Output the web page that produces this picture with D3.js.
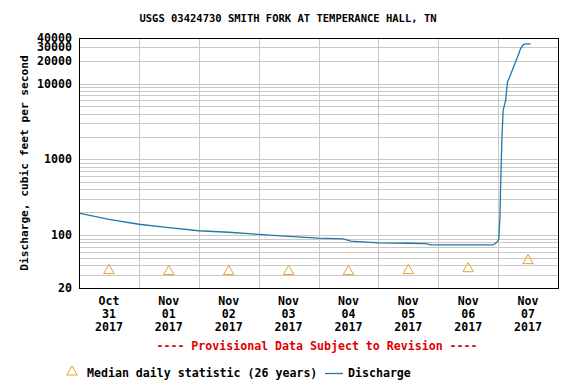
<!DOCTYPE html>
<html>
<head>
<meta charset="utf-8">
<script src="https://cdn.jsdelivr.net/npm/d3@7"></script>
<style>
  body { margin: 0; background: #fff; }
  text { font-family: "DejaVu Sans Mono", "Liberation Mono", monospace; font-weight: bold; }
</style>
</head>
<body>
<svg width="576" height="384"></svg>
<script>
  // discharge readings (cfs)
  const flowTimes = [
    "2017-10-31 00:00", "2017-10-31 12:00", "2017-11-01 00:00", "2017-11-01 12:00",
    "2017-11-02 00:00", "2017-11-02 12:00", "2017-11-03 00:00", "2017-11-03 12:00",
    "2017-11-04 00:00", "2017-11-04 10:00", "2017-11-04 13:00", "2017-11-05 00:00",
    "2017-11-05 12:00", "2017-11-05 19:00", "2017-11-05 21:00", "2017-11-06 12:00",
    "2017-11-06 22:00", "2017-11-06 23:30", "2017-11-07 00:15", "2017-11-07 00:45",
    "2017-11-07 01:00", "2017-11-07 01:30", "2017-11-07 02:00", "2017-11-07 03:00",
    "2017-11-07 03:45", "2017-11-07 04:45", "2017-11-07 06:30", "2017-11-07 08:00",
    "2017-11-07 09:00", "2017-11-07 10:00", "2017-11-07 11:00", "2017-11-07 13:00"
  ];
  const flowValues = [
    195, 161, 139, 125,
    114, 109, 102, 96,
    91, 89, 83, 79,
    78, 77, 74, 74,
    74, 80, 88, 180,
    450, 1800, 4400, 6000,
    10500, 12500, 17600, 23500,
    29000, 32500, 33500, 33500
  ];

  // median daily statistic (26 years)
  const medianDays = ["2017-10-31", "2017-11-01", "2017-11-02", "2017-11-03",
                      "2017-11-04", "2017-11-05", "2017-11-06", "2017-11-07"];
  const medianValues = [34, 33, 33, 33, 33, 34, 36, 46];

  const yTickValues = [20, 100, 1000, 10000, 20000, 30000, 40000];
  const xLabelMonths = ["Oct", "Nov", "Nov", "Nov", "Nov", "Nov", "Nov", "Nov"];
  const xLabelDays = ["31", "01", "02", "03", "04", "05", "06", "07"];
  const xLabelYears = ["2017", "2017", "2017", "2017", "2017", "2017", "2017", "2017"];

  const svg = d3.select("svg");
  const plotL = 79, plotR = 558, plotT = 38, plotB = 288;

  const parseT = d3.utcParse("%Y-%m-%d %H:%M");
  const parseD = d3.utcParse("%Y-%m-%d");

  const x = d3.scaleUtc()
      .domain([parseD("2017-10-31"), parseD("2017-11-08")])
      .range([plotL, plotR]);
  const y = d3.scaleLog()
      .domain([20, 40000])
      .range([plotB, plotT]);

  // horizontal grid, every log step
  const gridY = [];
  [10, 100, 1000, 10000].forEach(p => {
    for (let k = 1; k <= 9; k++) {
      const v = k * p;
      if (v > 20 && v < 40000) gridY.push(v);
    }
  });
  svg.append("g")
      .selectAll("line")
      .data(gridY)
      .join("line")
      .attr("x1", plotL).attr("x2", plotR)
      .attr("y1", d => Math.round(y(d)) + 0.5)
      .attr("y2", d => Math.round(y(d)) + 0.5)
      .style("stroke", "#c8c8c8");

  // vertical grid at midnight
  const dayBreaks = d3.utcDay.range(parseD("2017-11-01"), parseD("2017-11-08"));
  svg.append("g")
      .selectAll("line")
      .data(dayBreaks)
      .join("line")
      .attr("x1", d => Math.round(x(d)) + 0.5)
      .attr("x2", d => Math.round(x(d)) + 0.5)
      .attr("y1", plotT).attr("y2", plotB)
      .style("stroke", "#c8c8c8");

  // discharge line
  const flow = flowTimes.map((t, i) => ({ t: parseT(t), v: flowValues[i] }));
  svg.append("path")
      .datum(flow)
      .attr("fill", "none")
      .attr("stroke", "#2477ab")
      .attr("stroke-width", 1.3)
      .attr("d", d3.line().x(d => x(d.t)).y(d => y(d.v)));

  // median triangles at noon
  const medians = medianDays.map((t, i) => ({ t: d3.utcHour.offset(parseD(t), 12), v: medianValues[i] }));
  svg.append("g")
      .selectAll("path")
      .data(medians)
      .join("path")
      .attr("transform", d => `translate(${x(d.t)},${y(d.v)})`)
      .attr("d", d3.symbol(d3.symbolTriangle, 48))
      .attr("fill", "none")
      .attr("stroke", "#e3a52c")
      .attr("stroke-width", 1);

  // frame
  svg.append("rect")
      .attr("x", plotL + 0.5).attr("y", plotT + 0.5)
      .attr("width", plotR - plotL).attr("height", plotB - plotT)
      .attr("fill", "none")
      .style("stroke", "#000");

  // y tick labels
  svg.append("g")
      .selectAll("text")
      .data(yTickValues)
      .join("text")
      .attr("x", 72)
      .attr("y", d => y(d) + 4)
      .attr("text-anchor", "end")
      .attr("font-size", "11.6px")
      .text(d => d);

  // x labels (noon of each day)
  const labelDays = medianDays.map(t => d3.utcHour.offset(parseD(t), 12));
  const xl = svg.append("g")
      .selectAll("text")
      .data(labelDays)
      .join("text")
      .attr("text-anchor", "middle")
      .attr("font-size", "11.6px");
  xl.append("tspan").attr("x", d => x(d)).attr("y", 305).text((d, i) => xLabelMonths[i]);
  xl.append("tspan").attr("x", d => x(d)).attr("y", 318).text((d, i) => xLabelDays[i]);
  xl.append("tspan").attr("x", d => x(d)).attr("y", 331).text((d, i) => xLabelYears[i]);

  // title
  svg.append("text")
      .attr("x", 288).attr("y", 22)
      .attr("text-anchor", "middle")
      .attr("font-size", "10.5px")
      .text("USGS 03424730 SMITH FORK AT TEMPERANCE HALL, TN");

  // y axis title
  svg.append("text")
      .attr("transform", "translate(28,163) rotate(-90)")
      .attr("text-anchor", "middle")
      .attr("font-size", "11.2px")
      .text("Discharge, cubic feet per second");

  // provisional note
  svg.append("text")
      .attr("x", 317).attr("y", 350)
      .attr("text-anchor", "middle")
      .attr("font-size", "11.6px")
      .attr("fill", "#e00000")
      .text("---- Provisional Data Subject to Revision ----");

  // legend
  svg.append("path")
      .attr("transform", "translate(72,372)")
      .attr("d", d3.symbol(d3.symbolTriangle, 48))
      .attr("fill", "none")
      .attr("stroke", "#e3a52c");
  svg.append("text")
      .attr("x", 87).attr("y", 377)
      .attr("font-size", "11.6px")
      .text("Median daily statistic (26 years)");
  svg.append("line")
      .attr("x1", 325).attr("x2", 343)
      .attr("y1", 373.5).attr("y2", 373.5)
      .attr("stroke", "#2477ab")
      .attr("stroke-width", 1.3);
  svg.append("text")
      .attr("x", 348).attr("y", 377)
      .attr("font-size", "11.6px")
      .text("Discharge");
</script>
</body>
</html>
